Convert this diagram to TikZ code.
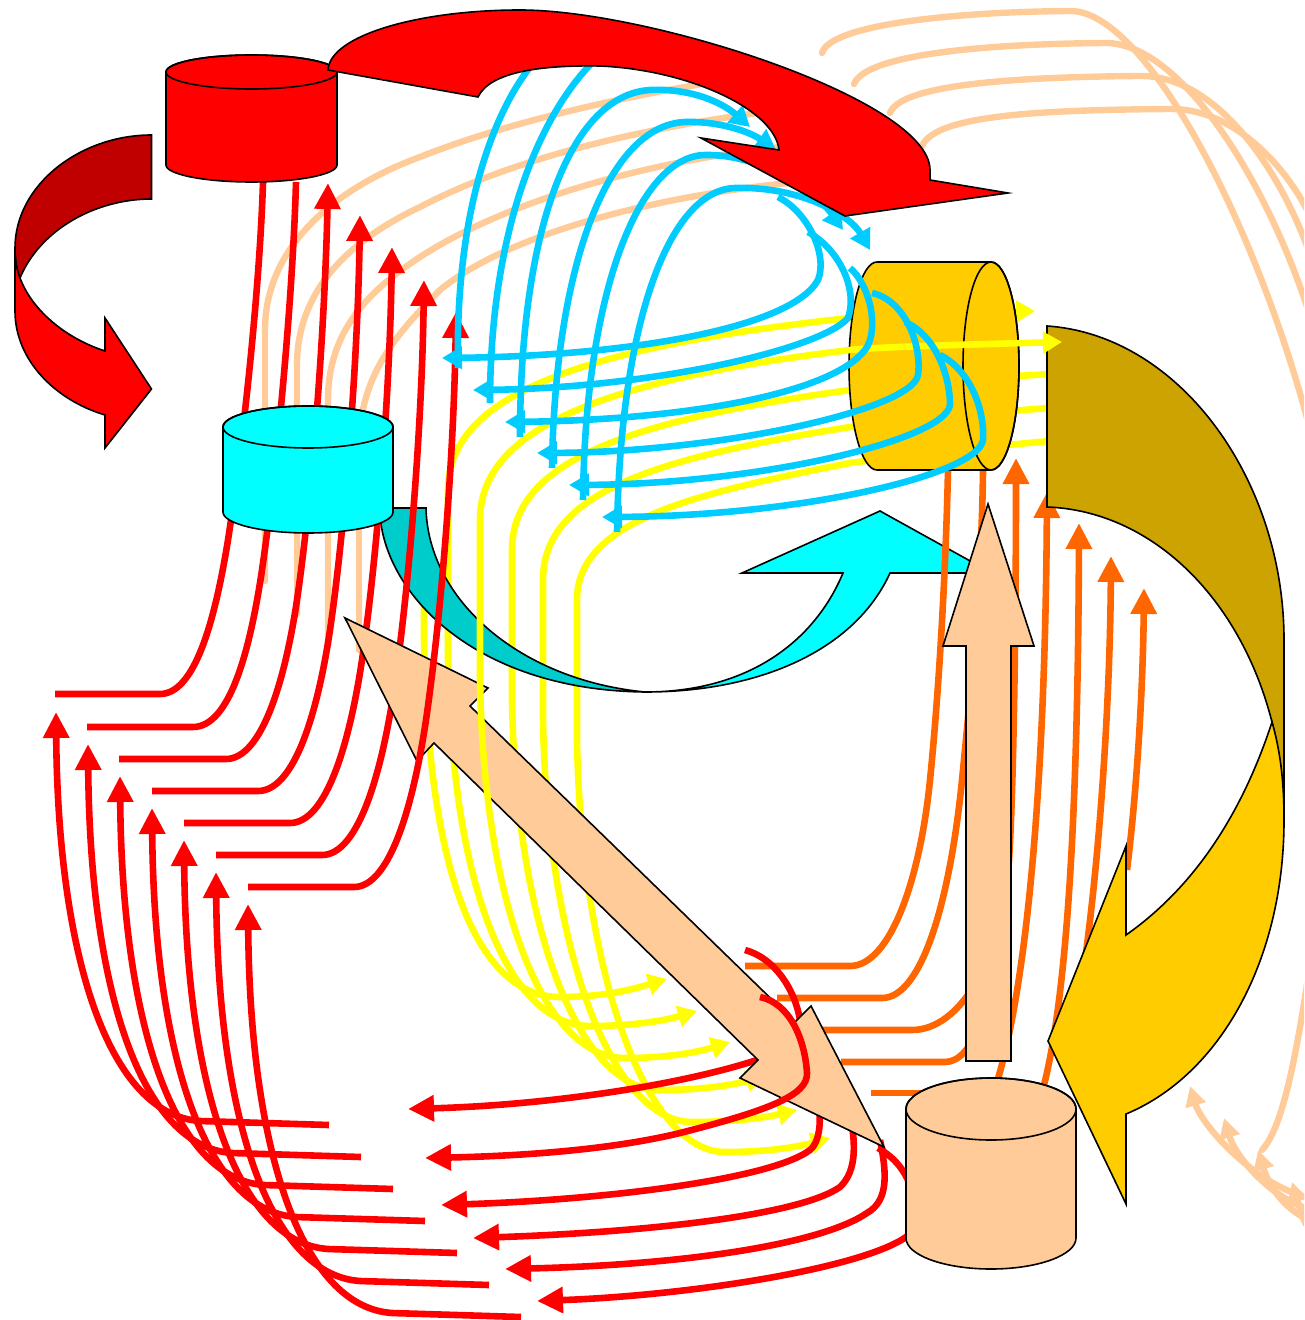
\documentclass[tikz,border=0pt]{standalone}
\usetikzlibrary{arrows.meta}
\definecolor{cred}{HTML}{FF0000}
\definecolor{dred}{HTML}{C00000}
\definecolor{ccyan}{HTML}{00CCFF}
\definecolor{aqua}{HTML}{00FFFF}
\definecolor{tealc}{HTML}{00CCCC}
\definecolor{peach}{HTML}{FFCC99}
\definecolor{orng}{HTML}{FF6600}
\definecolor{ylw}{HTML}{FFFF00}
\definecolor{goldc}{HTML}{FFCC00}
\definecolor{dgold}{HTML}{CCA300}
\begin{document}
\begin{tikzpicture}[x=0.5pt,y=-0.5pt,
  outl/.style={draw=black,line width=0.8pt,line join=miter},
  pline/.style={draw=peach,line width=3.2pt,line cap=round,line join=round},
  yline/.style={draw=ylw,line width=3.3pt,line join=round},
  oline/.style={draw=orng,line width=3.3pt,line join=round},
  rline/.style={draw=cred,line width=3.3pt,line join=round},
  cline/.style={draw=ccyan,line width=3.3pt,line join=round},
  bigtip/.style={-{Triangle[length=13pt,width=12.5pt]}},
  ctip/.style={-{Triangle[length=10pt,width=11pt]}},
  ytip/.style={-{Triangle[length=9.5pt,width=10.5pt]}},
  ybtip/.style={arrows={Triangle[length=9.5pt,width=10.5pt]-Triangle[length=9.5pt,width=10.5pt]}},
  ptip/.style={-{Triangle[length=10pt,width=10pt]}}]
\path[use as bounding box] (0,0) rectangle (1304,1320);
\begin{scope}
\clip (0,0) rectangle (1304,1320);
% ---------- peach field lines ----------
\draw[pline] (265,581) -- (265,330) .. controls (265,250) and (330,190) .. (420,157) .. controls (500,125) and (620,95) .. (760,75);
\draw[pline] (297,614) -- (297,365) .. controls (297,290) and (350,240) .. (420,207) .. controls (500,165) and (620,130) .. (780,110);
\draw[pline] (328,644) -- (328,400) .. controls (328,330) and (370,290) .. (420,257) .. controls (500,205) and (640,160) .. (800,145);
\draw[pline] (359,650) -- (359,450) .. controls (359,380) and (390,340) .. (440,290) .. controls (500,240) and (640,195) .. (820,180);
\draw[pline] (822,53) .. controls (830,25) and (950,12) .. (1070,11) .. controls (1150,10) and (1270,250) .. (1320,470);
\draw[pline] (854,84) .. controls (865,55) and (980,44) .. (1105,43) .. controls (1185,42) and (1280,200) .. (1320,350);
\draw[pline] (890,113) .. controls (900,85) and (1010,77) .. (1140,76) .. controls (1220,75) and (1290,180) .. (1320,285);
\draw[pline] (922,146) .. controls (935,115) and (1040,110) .. (1170,109) .. controls (1240,108) and (1300,180) .. (1320,240);
\draw[pline] (1325,860) .. controls (1305,1000) and (1290,1120) .. (1262,1150);
\draw[pline,ptip] (1320,1200) .. controls (1260,1192) and (1202,1126) .. (1190,1086);
\draw[pline,ptip] (1320,1212) .. controls (1275,1204) and (1236,1158) .. (1224,1118);
\draw[pline,ptip] (1320,1224) .. controls (1290,1216) and (1270,1190) .. (1258,1150);
\draw[pline,ptip] (1320,1236) .. controls (1305,1228) and (1304,1222) .. (1292,1182);
% ---------- yellow lines ----------
\draw[yline,ytip] (424,560) -- (424,640) .. controls (428,880) and (480,997) .. (560,997) .. controls (610,997) and (640,987) .. (667,979);
\draw[yline,ybtip] (1035,311) .. controls (950,313) and (890,315) .. (850,318) .. controls (568,348) and (448,400) .. (448,490) -- (448,660) .. controls (452,890) and (510,1026) .. (590,1026) .. controls (640,1026) and (670,1019) .. (697,1011);
\draw[yline,ytip] (1050,374) .. controls (950,380) and (880,386) .. (850,390) .. controls (632,420) and (512,460) .. (512,550) -- (512,700) .. controls (516,930) and (580,1090) .. (660,1090) .. controls (710,1090) and (740,1083) .. (765,1076);
\draw[yline,ytip] (1050,408) .. controls (950,415) and (880,423) .. (850,427) .. controls (663,457) and (543,490) .. (543,580) -- (543,720) .. controls (547,950) and (612,1122) .. (692,1122) .. controls (742,1122) and (772,1116) .. (797,1110);
\draw[yline,ytip] (1050,441) .. controls (950,450) and (880,459) .. (850,463) .. controls (697,493) and (577,520) .. (577,600) -- (577,740) .. controls (581,970) and (645,1152) .. (725,1152) .. controls (775,1152) and (805,1145) .. (830,1138);
% ---------- teal / cyan curved arrow ----------
\filldraw[fill=tealc,outl] (381,524) .. controls (392,600) and (480,690) .. (645,692) .. controls (520,680) and (428,600) .. (426,508) -- (385,508) -- cycle;
\filldraw[fill=aqua,outl] (645,692) .. controls (750,692) and (815,640) .. (843,573) -- (742,573) -- (880,511) -- (990,572) -- (990,573) -- (890,573) .. controls (855,650) and (760,692) .. (645,692) -- cycle;
% ---------- orange lines ----------
\draw[oline] (745,966) -- (850,966) .. controls (890,966) and (920,880) .. (930,780) .. controls (940,680) and (946,560) .. (948,470);
\draw[oline] (777,998) -- (882,998) .. controls (922,998) and (950,900) .. (962,780) .. controls (974,660) and (982,560) .. (983,470);
\draw[oline,bigtip] (823,1030) -- (912,1030) .. controls (960,1030) and (1000,960) .. (1008,874) .. controls (1014,800) and (1016,600) .. (1016,458);
\draw[oline] (841,1062) -- (945,1062) .. controls (975,1062) and (990,1000) .. (995,950);
\draw[oline] (871,1093) -- (930,1093);
\draw[oline,bigtip] (997,1082) .. controls (1025,990) and (1045,800) .. (1047,492);
\draw[oline,bigtip] (1044,1085) .. controls (1068,990) and (1078,800) .. (1079,523);
\draw[oline,bigtip] (1085,960) .. controls (1100,850) and (1110,700) .. (1111,556);
\draw[oline,bigtip] (1127,870) .. controls (1138,780) and (1143,680) .. (1144,588);
% ---------- red lines (left) ----------
\draw[rline] (55,694) -- (160,694) .. controls (195,694) and (215,620) .. (228,540) .. controls (245,430) and (260,280) .. (263,182);
\draw[rline] (87,727) -- (193,727) .. controls (230,727) and (250,650) .. (262,570) .. controls (278,460) and (293,290) .. (296,182);
\draw[rline,bigtip] (119,759) -- (226,759) .. controls (262,759) and (285,680) .. (297,600) .. controls (313,490) and (325,320) .. (328,183);
\draw[rline,bigtip] (152,791) -- (258,791) .. controls (295,791) and (318,710) .. (330,630) .. controls (346,520) and (358,350) .. (360,215);
\draw[rline,bigtip] (184,823) -- (290,823) .. controls (327,823) and (350,740) .. (362,660) .. controls (378,550) and (390,385) .. (392,247);
\draw[rline,bigtip] (216,855) -- (322,855) .. controls (359,855) and (382,770) .. (394,690) .. controls (410,580) and (422,420) .. (424,280);
\foreach \i in {0,...,6}{
  \draw[rline,bigtip] ({329+32*\i},{1125+32*\i}) -- ({200+32*\i},{1121+32*\i}) .. controls ({110+32*\i},{1115+32*\i}) and ({58+32*\i},{960+32*\i}) .. ({56+32*\i},{712+32*\i});
}
\draw[rline,bigtip] (745,950) .. controls (775,958) and (795,990) .. (800,1020) .. controls (805,1045) and (785,1055) .. (757,1060) .. controls (680,1085) and (550,1105) .. (408,1109);
\draw[rline,bigtip] (815,1095) .. controls (822,1110) and (822,1140) .. (810,1150) .. controls (770,1180) and (600,1200) .. (441,1205);
\draw[rline,bigtip] (850,1115) .. controls (855,1140) and (858,1170) .. (840,1187) .. controls (800,1215) and (650,1232) .. (473,1238);
\draw[rline,bigtip] (880,1140) .. controls (886,1170) and (890,1200) .. (867,1213) .. controls (820,1245) and (680,1265) .. (505,1269);
\draw[rline] (878,1148) .. controls (895,1158) and (905,1170) .. (912,1190);
\draw[rline,bigtip] (912,1232) .. controls (880,1265) and (700,1295) .. (537,1301);
% ---------- double peach arrow ----------
\filldraw[fill=peach,outl] (345,618) -- (488,688) -- (470,706) -- (795,1022) -- (811,1006) -- (884,1147) -- (740,1078) -- (758,1060) -- (434,743) -- (417,761) -- cycle;
\draw[rline,bigtip] (248,887) -- (354,887) .. controls (391,887) and (414,800) .. (426,720) .. controls (442,610) and (454,450) .. (456,312);
\draw[rline,bigtip] (760,997) .. controls (790,1003) and (805,1040) .. (807,1073) .. controls (808,1095) and (770,1110) .. (680,1133) .. controls (610,1150) and (520,1156) .. (425,1158);
% ---------- vertical cylinders ----------
\coordinate (redcyl) at (251.5,118);
\filldraw[fill=cred,outl] (166,72) -- (166,165) arc[start angle=180,end angle=360,x radius=42.75pt,y radius=8.5pt] -- (337,72) arc[start angle=0,end angle=180,x radius=42.75pt,y radius=8.5pt] -- cycle;
\draw[outl] (251.5,72) ellipse[x radius=42.75pt,y radius=8.5pt];
\coordinate (cyancyl) at (308,470);
\filldraw[fill=aqua,outl] (223,427) -- (223,512) arc[start angle=180,end angle=360,x radius=42.5pt,y radius=10.5pt] -- (393,427) arc[start angle=0,end angle=180,x radius=42.5pt,y radius=10.5pt] -- cycle;
\draw[outl] (308,427) ellipse[x radius=42.5pt,y radius=10.5pt];
\coordinate (peachcyl) at (991,1175);
\filldraw[fill=peach,outl] (906,1109) -- (906,1238) arc[start angle=180,end angle=360,x radius=42.5pt,y radius=15.5pt] -- (1076,1109) arc[start angle=0,end angle=180,x radius=42.5pt,y radius=15.5pt] -- cycle;
\draw[outl] (991,1109) ellipse[x radius=42.5pt,y radius=15.5pt];
% ---------- peach vertical arrow ----------
\filldraw[fill=peach,outl] (966,1061) -- (966,646) -- (943,646) -- (988,504) -- (1034,646) -- (1011,646) -- (1011,1061) -- cycle;
% ---------- gold curved arrow ----------
\filldraw[fill=dgold,outl] (1047,326) .. controls (1180,335) and (1284,480) .. (1284,640) -- (1284,820) .. controls (1284,650) and (1180,512) .. (1047,507) -- cycle;
\filldraw[fill=goldc,outl] (1284,820) .. controls (1284,780) and (1280,750) .. (1272,722) .. controls (1240,820) and (1190,890) .. (1126,935) -- (1126,846) -- (1048,1041) -- (1126,1204) -- (1126,1114) .. controls (1220,1075) and (1284,960) .. (1284,820) -- cycle;
% ---------- gold horizontal cylinder ----------
\coordinate (goldcyl) at (934,366);
\filldraw[fill=goldc,outl] (877,262) -- (991,262) arc[start angle=90,end angle=-90,x radius=14pt,y radius=52pt] -- (877,470) arc[start angle=270,end angle=90,x radius=14pt,y radius=52pt] -- cycle;
\draw[outl] (991,366) ellipse[x radius=14pt,y radius=52pt];
\draw[yline,ybtip] (1062,342) .. controls (950,345) and (880,347) .. (850,350) .. controls (600,380) and (480,430) .. (480,520) -- (480,680) .. controls (484,910) and (545,1058) .. (625,1058) .. controls (675,1058) and (705,1050) .. (730,1042);
% ---------- cyan lines ----------
\draw[cline] (458,368) .. controls (455,220) and (490,110) .. (540,55);
\draw[cline] (490,403) .. controls (490,230) and (540,110) .. (600,55);
\draw[cline,ctip] (520,437) .. controls (520,230) and (570,95) .. (650,90) .. controls (695,88) and (725,105) .. (750,127);
\draw[cline,ctip] (552,468) .. controls (555,260) and (610,125) .. (685,122) .. controls (720,121) and (750,132) .. (776,150);
\draw[cline,ctip] (583,500) .. controls (585,290) and (640,156) .. (705,155) .. controls (760,154) and (815,190) .. (843,230);
\draw[cline,ctip] (617,532) .. controls (620,320) and (670,190) .. (735,188) .. controls (800,186) and (850,215) .. (870,250);
\draw[cline,ctip] (778,197) .. controls (808,212) and (828,255) .. (818,280) .. controls (790,330) and (620,356) .. (442,358);
\draw[cline,ctip] (808,232) .. controls (840,250) and (858,290) .. (848,318) .. controls (820,350) and (650,388) .. (473,390);
\draw[cline,ctip] (850,268) .. controls (870,285) and (880,330) .. (865,350) .. controls (830,395) and (680,420) .. (505,422);
\draw[cline,ctip] (872,293) .. controls (905,300) and (922,345) .. (918,375) .. controls (912,410) and (720,452) .. (537,453);
\draw[cline,ctip] (905,322) .. controls (935,335) and (950,375) .. (950,405) .. controls (945,440) and (760,484) .. (569,485);
\draw[cline,ctip] (940,355) .. controls (970,370) and (985,410) .. (983,440) .. controls (978,475) and (800,516) .. (602,517);
% ---------- big red arc arrow ----------
\filldraw[fill=cred,outl] (328,70) -- (478,97) .. controls (490,72) and (540,65) .. (600,66) .. controls (690,70) and (775,110) .. (779,150) -- (701,138) -- (845,216) -- (1008,193) -- (930,180) -- (930,170) .. controls (930,100) and (650,10) .. (520,10) .. controls (420,10) and (330,35) .. cycle;
% ---------- left curved arrow ----------
\filldraw[fill=dred,outl] (151.5,135) -- (151.5,199) .. controls (95,199) and (40,230) .. (20,278) .. controls (16,268) and (15,258) .. (15,248) .. controls (15,185) and (80,135) .. cycle;
\filldraw[fill=cred,outl] (15,248) -- (15,311) .. controls (15,360) and (55,400) .. (105,415) -- (105,448) -- (151.5,389) -- (105,318) -- (105,351) .. controls (65,338) and (32,310) .. (20,278) .. controls (16,268) and (15,258) .. cycle;
\end{scope}
\end{tikzpicture}
\end{document}
